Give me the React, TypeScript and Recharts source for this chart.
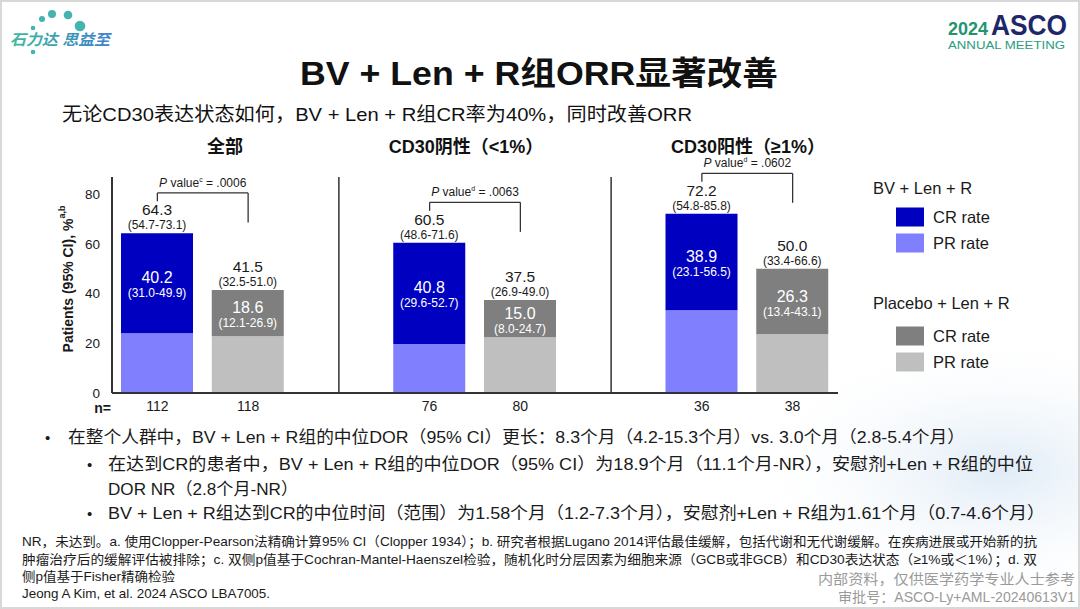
import React from "react"
import { BarChart, Bar, XAxis, YAxis, Cell, LabelList, ReferenceLine } from "recharts"

// ============================================================
// Data
// ============================================================

const categories = ["all-bv", "all-pbo", "gap-1", "neg-bv", "neg-pbo", "gap-2", "pos-bv", "pos-pbo"]
const armOf = ["bv", "pbo", "", "bv", "pbo", "", "bv", "pbo"]
const nValues = [112, 118, null, 76, 80, null, 36, 38]
const orrValues = [64.3, 41.5, null, 60.5, 37.5, null, 72.2, 50.0]
const orrCI = ["(54.7-73.1)", "(32.5-51.0)", "", "(48.6-71.6)", "(26.9-49.0)", "", "(54.8-85.8)", "(33.4-66.6)"]
const crValues = [40.2, 18.6, null, 40.8, 15.0, null, 38.9, 26.3]
const crCI = ["(31.0-49.9)", "(12.1-26.9)", "", "(29.6-52.7)", "(8.0-24.7)", "", "(23.1-56.5)", "(13.4-43.1)"]
const prValues = [24.1, 22.9, null, 19.7, 22.5, null, 33.3, 23.7]

const panelTitles = ["全部", "CD30阴性（<1%）", "CD30阳性（≥1%）"]
const pNotes = ["c", "d", "d"]
const pValues = [".0006", ".0063", ".0602"]
const yTicks = [0, 20, 40, 60, 80]

const colors = {
  bvCr: "#0000C0",
  bvPr: "#8080FF",
  pboCr: "#7F7F7F",
  pboPr: "#BFBFBF",
  axis: "#333333",
  text: "#1a1a1a",
}

const legendGroups = [
  { title: "BV + Len + R", items: [{ label: "CR rate", color: colors.bvCr }, { label: "PR rate", color: colors.bvPr }] },
  { title: "Placebo + Len + R", items: [{ label: "CR rate", color: colors.pboCr }, { label: "PR rate", color: colors.pboPr }] },
]

const bullets = [
  { lvl: 1, x: 68, w: 897, y: 437, t: "在整个人群中，BV + Len + R组的中位DOR（95% CI）更长：8.3个月（4.2-15.3个月）vs. 3.0个月（2.8-5.4个月）" },
  { lvl: 2, x: 108, w: 925, y: 464, t: "在达到CR的患者中，BV + Len + R组的中位DOR（95% CI）为18.9个月（11.1个月-NR），安慰剂+Len + R组的中位" },
  { lvl: 0, x: 108, w: 190, y: 489, t: "DOR NR（2.8个月-NR）" },
  { lvl: 2, x: 108, w: 937, y: 513, t: "BV + Len + R组达到CR的中位时间（范围）为1.58个月（1.2-7.3个月），安慰剂+Len + R组为1.61个月（0.7-4.6个月）" },
]

const footnotes = [
  { x: 22, w: 1015, y: 541, t: "NR，未达到。a. 使用Clopper-Pearson法精确计算95% CI（Clopper 1934）；b. 研究者根据Lugano 2014评估最佳缓解，包括代谢和无代谢缓解。在疾病进展或开始新的抗" },
  { x: 22, w: 1015, y: 559, t: "肿瘤治疗后的缓解评估被排除；c. 双侧p值基于Cochran-Mantel-Haenszel检验，随机化时分层因素为细胞来源（GCB或非GCB）和CD30表达状态（≥1%或＜1%）；d. 双" },
  { x: 22, w: 153, y: 576, t: "侧p值基于Fisher精确检验" },
  { x: 22, w: 248, y: 593, t: "Jeong A Kim, et al. 2024 ASCO LBA7005." },
]

const FONT = '"Liberation Sans", Arial, "Noto Sans CJK SC", sans-serif'

// ============================================================
// Label renderers (value = category key)
// ============================================================

function OrrLabel(props: any) {
  const i = categories.indexOf(props.value)
  if (i < 0 || orrValues[i] == null) return null
  const cx = props.x + props.width / 2
  return (
    <g fontFamily={FONT} fill={colors.text} textAnchor="middle">
      <text x={cx} y={props.y - 18} fontSize={15.5}>{orrValues[i]!.toFixed(1)}</text>
      <text x={cx} y={props.y - 4} fontSize={12}>{orrCI[i]}</text>
    </g>
  )
}

function CrLabel(props: any) {
  const i = categories.indexOf(props.value)
  if (i < 0 || crValues[i] == null) return null
  const cx = props.x + props.width / 2
  const mid = props.y + props.height / 2
  return (
    <g fontFamily={FONT} fill="#ffffff" textAnchor="middle">
      <text x={cx} y={mid} fontSize={16}>{crValues[i]!.toFixed(1)}</text>
      <text x={cx} y={mid + 14} fontSize={12}>{crCI[i]}</text>
    </g>
  )
}

function pLabel(g: number) {
  return (props: any) => {
    const vb = props.viewBox
    if (!vb) return null
    const cx = vb.x + (vb.width || 0) / 2
    return (
      <text x={cx} y={vb.y - 6} textAnchor="middle" fontFamily={FONT} fontSize={12} fill={colors.text}>
        <tspan fontStyle="italic">P</tspan>
        <tspan> value</tspan>
        <tspan fontSize={7} dy={-5}>{pNotes[g]}</tspan>
        <tspan dy={5}> = {pValues[g]}</tspan>
      </text>
    )
  }
}

function YLabel(props: any) {
  const vb = props.viewBox
  if (!vb) return null
  const x = vb.x + 16
  const y = vb.y + vb.height / 2 - 6
  return (
    <text
      x={x}
      y={y}
      transform={`rotate(-90 ${x} ${y})`}
      textAnchor="middle"
      dominantBaseline="central"
      fontFamily={FONT}
      fontSize={14}
      fontWeight="bold"
      fill={colors.text}
    >
      Patients (95% CI), %<tspan fontSize={9} dy={-6}>a,b</tspan>
    </text>
  )
}

// ============================================================
// App
// ============================================================

export default function App() {
  const data = categories.map((c, i) => ({
    key: c,
    arm: armOf[i],
    pr: prValues[i],
    cr: crValues[i],
  }))

  const brackets = [0, 1, 2].map((g) => {
    const top = (orrValues[g * 3] as number) + 16.3
    return { g, left: categories[g * 3], right: categories[g * 3 + 1], top }
  })

  return (
    <div
      style={{
        position: "absolute",
        left: 0,
        top: 0,
        width: 1080,
        height: 609,
        background: "#ffffff",
        overflow: "hidden",
        fontFamily: FONT,
      }}
    >
      <svg width={1080} height={609} style={{ position: "absolute", left: 0, top: 0 }}>
        <defs>
          <radialGradient id="cloud" cx="0.5" cy="0.5" r="0.5">
            <stop offset="0%" stopColor="#dce9f5" stopOpacity={0.9} />
            <stop offset="100%" stopColor="#ffffff" stopOpacity={0} />
          </radialGradient>
          <linearGradient id="logoGrad" x1="0" y1="0" x2="1" y2="0">
            <stop offset="0%" stopColor="#3dbaa2" />
            <stop offset="100%" stopColor="#3f7fcb" />
          </linearGradient>
        </defs>
        <ellipse cx={1000} cy={470} rx={260} ry={140} fill="url(#cloud)" />
        <rect x={0.5} y={0.5} width={1079} height={608} fill="none" stroke="#d8d8d8" strokeWidth={3} />

        {/* logo top-left */}
        <g fill="#45b3b0">
          <circle cx={33} cy={28} r={2.3} />
          <circle cx={42} cy={19} r={3} />
          <circle cx={52} cy={14} r={4} />
          <circle cx={68} cy={15} r={4.3} />
          <circle cx={80} cy={26} r={5.3} />
          <circle cx={33} cy={52} r={2.3} />
        </g>
        <text x={10} y={45} fontSize={15} fontWeight="bold" fontStyle="italic" fill="url(#logoGrad)" textLength={100} lengthAdjust="spacingAndGlyphs">
          石力达 思益至
        </text>

        {/* ASCO logo */}
        <text x={948} y={35} fontSize={18} fontWeight="bold" fill="#23946f" fontFamily={FONT} textLength={40} lengthAdjust="spacingAndGlyphs">2024</text>
        <text x={991} y={35} fontSize={29} fontWeight="bold" fill="#1c2869" fontFamily={FONT} textLength={76} lengthAdjust="spacingAndGlyphs">ASCO</text>
        <text x={948} y={49} fontSize={11.5} fill="#2a9d80" fontFamily={FONT} textLength={117} lengthAdjust="spacingAndGlyphs">ANNUAL MEETING</text>

        {/* title + subtitle */}
        <text x={300} y={73} dominantBaseline="central" fontSize={33} fontWeight="bold" fill="#111" textLength={478} lengthAdjust="spacingAndGlyphs">
          BV + Len + R组ORR显著改善
        </text>
        <text x={62} y={114} dominantBaseline="central" fontSize={19} fill="#111" textLength={630} lengthAdjust="spacingAndGlyphs">
          无论CD30表达状态如何，BV + Len + R组CR率为40%，同时改善ORR
        </text>

        {/* panel titles */}
        {panelTitles.map((t, g) => (
          <text key={t} x={[225, 466, 748][g]} y={147} dominantBaseline="central" textAnchor="middle" fontSize={18} fontWeight="bold" fill="#111">
            {t}
          </text>
        ))}

        <text x={111} y={408} dominantBaseline="central" textAnchor="end" fontSize={14} fontWeight="bold" fill={colors.text}>n=</text>

        {/* legend */}
        {legendGroups.map((lg, gi) => {
          const y0 = gi === 0 ? 188 : 303
          const itemY = gi === 0 ? [217, 243] : [336, 362]
          return (
            <g key={lg.title}>
              <text x={873} y={y0} dominantBaseline="central" fontSize={16.5} fill={colors.text}>{lg.title}</text>
              {lg.items.map((it, k) => (
                <g key={k}>
                  <rect x={896} y={itemY[k] - 9.5} width={28} height={19} fill={it.color} />
                  <text x={933} y={itemY[k]} dominantBaseline="central" fontSize={16.5} fill={colors.text}>{it.label}</text>
                </g>
              ))}
            </g>
          )
        })}

        {/* bullets */}
        {bullets.map((b, i) => (
          <g key={i}>
            {b.lvl > 0 && (
              <text x={b.lvl === 1 ? 45 : 87} y={b.y} dominantBaseline="central" fontSize={15} fill={colors.text}>•</text>
            )}
            <text x={b.x} y={b.y} dominantBaseline="central" fontSize={17} fill={colors.text} textLength={b.w} lengthAdjust="spacingAndGlyphs">
              {b.t}
            </text>
          </g>
        ))}

        {/* footnotes */}
        {footnotes.map((f, i) => (
          <text key={i} x={f.x} y={f.y} dominantBaseline="central" fontSize={13} fill={colors.text} textLength={f.w} lengthAdjust="spacingAndGlyphs">
            {f.t}
          </text>
        ))}
        <text x={818} y={579} dominantBaseline="central" fontSize={14} fill="#9a9a9a" textLength={257} lengthAdjust="spacingAndGlyphs">内部资料，仅供医学药学专业人士参考</text>
        <text x={838} y={597} dominantBaseline="central" fontSize={14} fill="#9a9a9a" textLength={237} lengthAdjust="spacingAndGlyphs">审批号：ASCO-Ly+AML-20240613V1</text>
      </svg>

      <div style={{ position: "absolute", left: 0, top: 150 }}>
        <BarChart width={860} height={280} data={data} margin={{ top: 27, right: 22, bottom: 7, left: 52 }}>
          <XAxis
            dataKey="key"
            height={30}
            tickLine={false}
            tickMargin={2}
            axisLine={{ stroke: colors.axis, strokeWidth: 2 }}
            tick={{ fill: colors.text, fontSize: 14, fontFamily: FONT }}
            tickFormatter={(v: string) => {
              const n = nValues[categories.indexOf(v)]
              return n == null ? "" : String(n)
            }}
            interval={0}
          />
          <YAxis
            width={60}
            domain={[0, 87]}
            ticks={yTicks}
            allowDataOverflow
            tickLine={false}
            tickMargin={6}
            axisLine={{ stroke: colors.axis, strokeWidth: 2 }}
            tick={{ fill: colors.text, fontSize: 13.5, fontFamily: FONT }}
            label={<YLabel />}
          />
          <ReferenceLine x="gap-1" stroke={colors.axis} strokeWidth={1.5} />
          <ReferenceLine x="gap-2" stroke={colors.axis} strokeWidth={1.5} />
          <Bar dataKey="pr" stackId="s" barSize={72} isAnimationActive={false}>
            {data.map((d, i) => (
              <Cell key={i} fill={d.arm === "bv" ? colors.bvPr : colors.pboPr} />
            ))}
          </Bar>
          <Bar dataKey="cr" stackId="s" barSize={72} isAnimationActive={false}>
            {data.map((d, i) => (
              <Cell key={i} fill={d.arm === "bv" ? colors.bvCr : colors.pboCr} />
            ))}
            <LabelList dataKey="key" content={CrLabel} />
            <LabelList dataKey="key" content={OrrLabel} />
          </Bar>
          {brackets.map((b) => (
            <ReferenceLine
              key={`h${b.g}`}
              segment={[{ x: b.left, y: b.top }, { x: b.right, y: b.top }]}
              stroke={colors.axis}
              strokeWidth={1.3}
              ifOverflow="visible"
              label={pLabel(b.g)}
            />
          ))}
          {brackets.map((b) => (
            <ReferenceLine
              key={`l${b.g}`}
              segment={[{ x: b.left, y: b.top }, { x: b.left, y: b.top - 3.4 }]}
              stroke={colors.axis}
              strokeWidth={1.3}
              ifOverflow="visible"
            />
          ))}
          {brackets.map((b) => (
            <ReferenceLine
              key={`r${b.g}`}
              segment={[{ x: b.right, y: b.top }, { x: b.right, y: b.top - 11.9 }]}
              stroke={colors.axis}
              strokeWidth={1.3}
              ifOverflow="visible"
            />
          ))}
        </BarChart>
      </div>
    </div>
  )
}
